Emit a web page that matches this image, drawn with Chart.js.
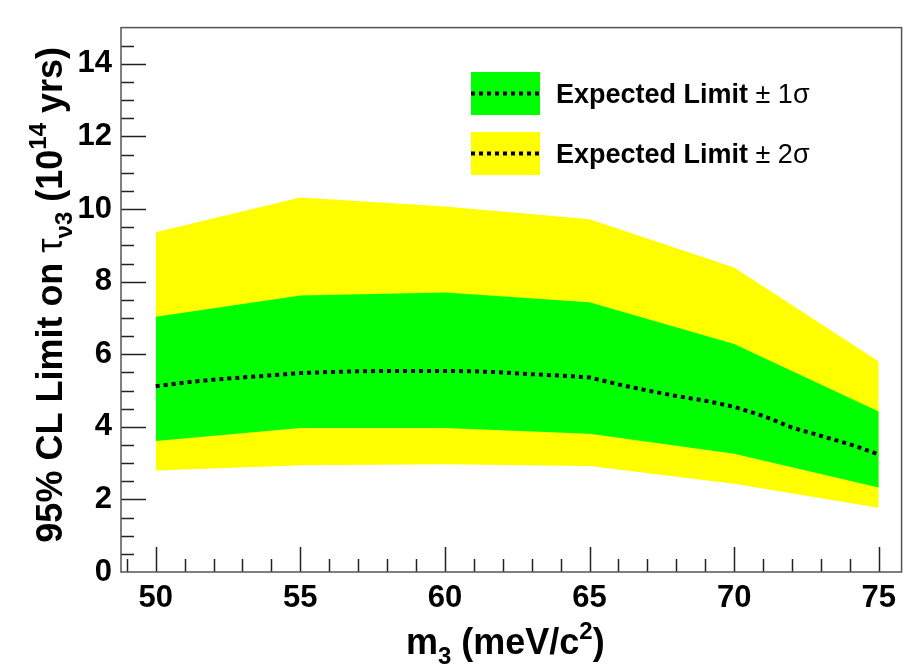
<!DOCTYPE html>
<html><head><meta charset="utf-8">
<script src="https://cdn.jsdelivr.net/npm/chart.js@4/dist/chart.umd.min.js"></script>
<style>html,body{margin:0;padding:0;background:#fff;overflow:hidden;}</style>
</head><body>
<canvas id="c" width="904" height="666" style="display:block;width:904px;height:666px"></canvas>
<script>
// ---- data ----
const massPoints   = [50, 55, 60, 65, 70, 75];
const yellowUpper  = [9.36, 10.32, 10.07, 9.72, 8.39, 5.80];
const greenUpper   = [7.03, 7.62, 7.70, 7.43, 6.28, 4.42];
const greenLower   = [3.61, 3.97, 3.97, 3.81, 3.26, 2.33];
const yellowLower  = [2.80, 2.94, 2.97, 2.92, 2.43, 1.77];
const medianMass   = [50,51,52,53,54,55,56,57,58,59,60,61,62,63,64,65,66,67,68,69,70,71,72,73,74,75];
const medianLimit  = [5.12,5.22,5.30,5.36,5.42,5.48,5.51,5.53,5.54,5.54,5.54,5.53,5.50,5.45,5.41,5.36,5.17,5.00,4.85,4.72,4.55,4.30,3.98,3.75,3.52,3.24];
const xTickLabels  = [50, 55, 60, 65, 70, 75];
const yTickLabels  = [0, 2, 4, 6, 8, 10, 12, 14];
const legendLabels = ["Expected Limit \u00b1 1\u03c3", "Expected Limit \u00b1 2\u03c3"];

const pts = (xs, ys) => xs.map((x, i) => ({x: x, y: ys[i]}));
const YELLOW = '#ffff00', GREEN = '#00ff00';
const FONT = '"Liberation Sans", Arial, Helvetica, sans-serif';

function drawSegments(ctx, segs, x, y) {
  let w = 0;
  segs.forEach(s => { ctx.font = s.f; w += ctx.measureText(s.t).width; });
  let cx = x - w / 2;
  segs.forEach(s => {
    ctx.font = s.f;
    ctx.fillText(s.t, cx, y + (s.dy || 0));
    cx += ctx.measureText(s.t).width;
  });
}

const decorPlugin = {
  id: 'decor',
  afterDatasetsDraw(chart) {
    const ctx = chart.ctx, a = chart.chartArea;
    const xs = chart.scales.x, ys = chart.scales.y;
    ctx.save();
    // ticks pointing inward
    ctx.strokeStyle = '#222';
    ctx.lineWidth = 1.5;
    ctx.beginPath();
    for (let v = Math.ceil(xs.min); v <= xs.max; v += 1) {
      const px = Math.round(xs.getPixelForValue(v)) + 0.5;
      const len = (v % 5 === 0) ? 25 : 13;
      ctx.moveTo(px, a.bottom); ctx.lineTo(px, a.bottom - len);
    }
    for (let v = 0.5; v < ys.max; v += 0.5) {
      const py = Math.round(ys.getPixelForValue(v)) + 0.5;
      const len = (v % 2 === 0) ? 25 : 13;
      ctx.moveTo(a.left, py); ctx.lineTo(a.left + len, py);
    }
    ctx.stroke();
    // frame
    ctx.strokeStyle = '#555';
    ctx.lineWidth = 1.5;
    ctx.strokeRect(a.left, a.top, a.right - a.left, a.bottom - a.top);

    // legend
    const ds = chart.data.datasets;
    const med = ds[4];
    const boxes = [{c: ds[3].backgroundColor, y: 72}, {c: ds[1].backgroundColor, y: 132}];
    boxes.forEach((b, i) => {
      ctx.fillStyle = b.c;
      ctx.fillRect(471, b.y, 69, 43);
      ctx.strokeStyle = med.borderColor;
      ctx.lineWidth = med.borderWidth;
      ctx.setLineDash(med.borderDash);
      ctx.beginPath();
      ctx.moveTo(471, b.y + 21.5); ctx.lineTo(540, b.y + 21.5);
      ctx.stroke();
      ctx.setLineDash([]);
      ctx.fillStyle = '#000';
      ctx.textBaseline = 'alphabetic';
      const lab = legendLabels[i];
      const main = lab.split(' \u00b1 ')[0];
      const tail = lab.slice(main.length);
      ctx.font = 'bold 27px ' + FONT;
      ctx.fillText(main, 556, b.y + 31);
      const w = ctx.measureText(main).width;
      ctx.font = '27px ' + FONT;
      ctx.fillText(tail, 556 + w, b.y + 31);
    });

    // axis titles
    ctx.fillStyle = '#000';
    ctx.textBaseline = 'alphabetic';
    const big = 'bold 36px ' + FONT, small = 'bold 24px ' + FONT;
    drawSegments(ctx, [
      {t: 'm', f: big}, {t: '3', f: small, dy: 10},
      {t: ' (meV/c', f: big}, {t: '2', f: small, dy: -15}, {t: ')', f: big}
    ], (a.left + a.right) / 2 - 6, 654);

    ctx.save();
    ctx.translate(62, (a.top + a.bottom) / 2 - 5);
    ctx.rotate(-Math.PI / 2);
    drawSegments(ctx, [
      {t: '95% CL Limit on ', f: big},
      {t: '\u03c4', f: '36px ' + FONT},
      {t: '\u03bd3', f: small, dy: 10},
      {t: ' (10', f: big}, {t: '14', f: small, dy: -16}, {t: ' yrs)', f: big}
    ], 0, 0);
    ctx.restore();
    ctx.restore();
  }
};

new Chart(document.getElementById('c'), {
  type: 'line',
  data: {
    datasets: [
      {label: '2s low', data: pts(massPoints, yellowLower), borderWidth: 0, pointRadius: 0, fill: false, order: 5, borderColor: 'rgba(0,0,0,0)'},
      {label: legendLabels[1], data: pts(massPoints, yellowUpper), borderWidth: 0, pointRadius: 0, backgroundColor: YELLOW, borderColor: 'rgba(0,0,0,0)', fill: 0, order: 4},
      {label: '1s low', data: pts(massPoints, greenLower), borderWidth: 0, pointRadius: 0, fill: false, order: 3, borderColor: 'rgba(0,0,0,0)'},
      {label: legendLabels[0], data: pts(massPoints, greenUpper), borderWidth: 0, pointRadius: 0, backgroundColor: GREEN, borderColor: 'rgba(0,0,0,0)', fill: 2, order: 2},
      {label: 'Expected', data: pts(medianMass, medianLimit), borderColor: '#000', borderWidth: 4, borderDash: [4, 4], borderCapStyle: 'butt', pointRadius: 0, fill: false, order: 1, tension: 0}
    ]
  },
  options: {
    responsive: false,
    animation: false,
    devicePixelRatio: 1,
    layout: {padding: {left: 0, right: 1, top: 23, bottom: 0}},
    plugins: {legend: {display: false}, tooltip: {enabled: false}, title: {display: false}},
    scales: {
      x: {
        type: 'linear', min: 48.8, max: 75.79,
        afterBuildTicks: s => { s.ticks = xTickLabels.map(v => ({value: v})); },
        afterFit: s => { s.height = 94; },
        ticks: {color: '#000', font: {family: FONT, size: 31, weight: 'bold'}, padding: 8, maxRotation: 0, autoSkip: false},
        grid: {display: false, drawTicks: false},
        border: {display: false}
      },
      y: {
        type: 'linear', min: 0, max: 15,
        afterBuildTicks: s => { s.ticks = yTickLabels.map(v => ({value: v})); },
        afterFit: s => { s.width = 121; },
        ticks: {color: '#000', font: {family: FONT, size: 31, weight: 'bold'}, padding: 9, autoSkip: false},
        grid: {display: false, drawTicks: false},
        border: {display: false}
      }
    }
  },
  plugins: [decorPlugin]
});
</script>
</body></html>
